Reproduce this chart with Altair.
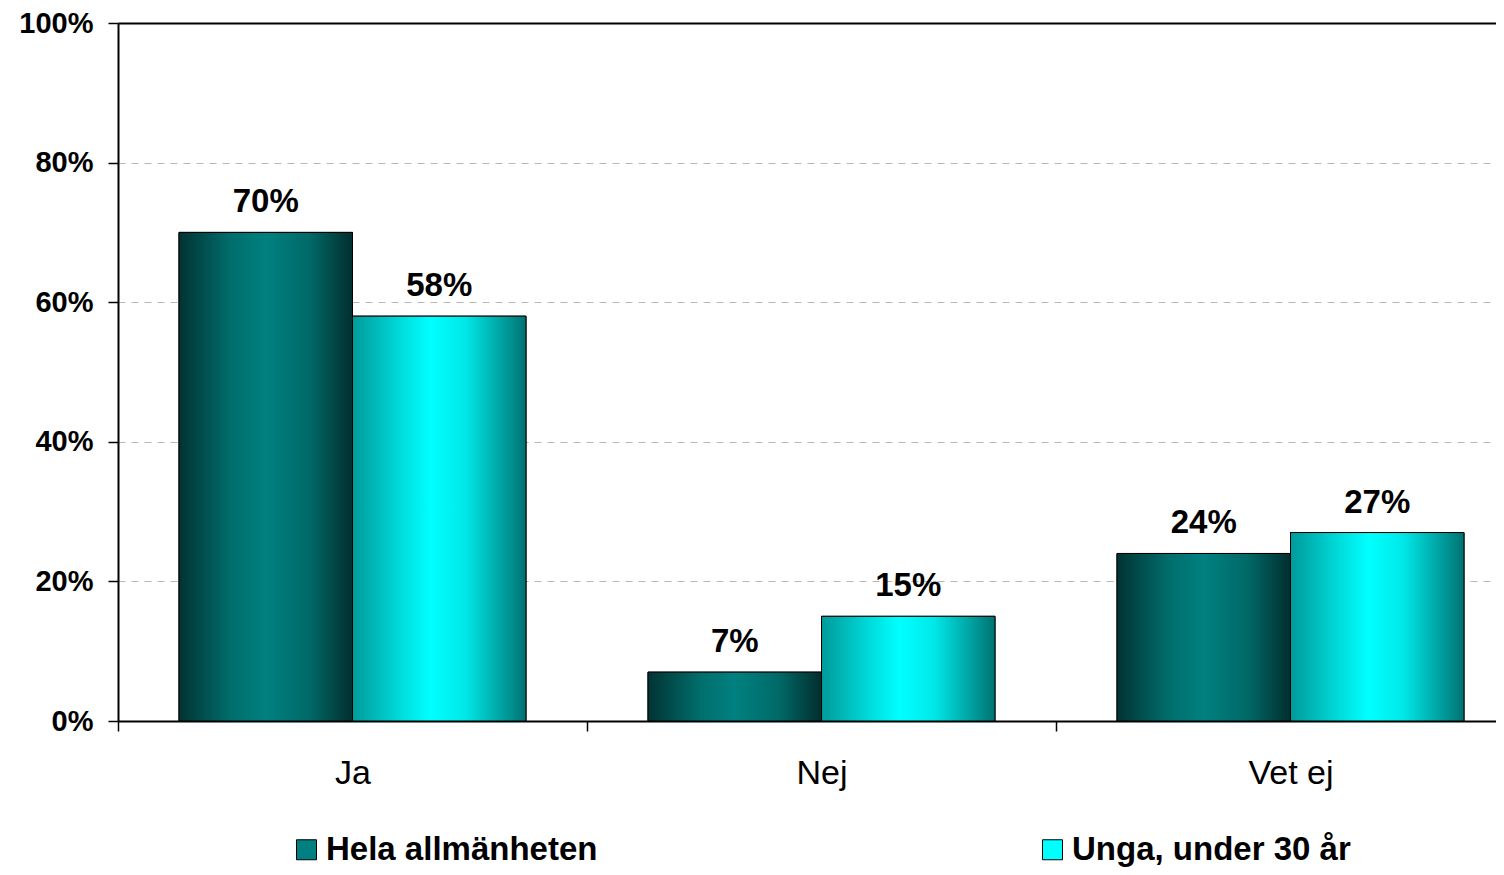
import altair as alt
import pandas as pd

categories = ["Ja", "Nej", "Vet ej"]
series_names = ["Hela allmänheten", "Unga, under 30 år"]
hela = [70, 7, 24]
unga = [58, 15, 27]
y_ticks = [0, 20, 40, 60, 80, 100]

rows = []
for s, vals in zip(series_names, [hela, unga]):
    for c, v in zip(categories, vals):
        rows.append({"category": c, "series": s, "value": v / 100, "label": f"{v}%"})
df = pd.DataFrame(rows)

FONT = "Liberation Sans"

grad_dark = alt.Gradient(
    gradient="linear", x1=0, x2=1, y1=0, y2=0,
    stops=[
        alt.GradientStop(color="#023333", offset=0),
        alt.GradientStop(color="#006e6c", offset=0.3),
        alt.GradientStop(color="#008080", offset=0.5),
        alt.GradientStop(color="#006a68", offset=0.75),
        alt.GradientStop(color="#022e2e", offset=1),
    ],
)
grad_light = alt.Gradient(
    gradient="linear", x1=0, x2=1, y1=0, y2=0,
    stops=[
        alt.GradientStop(color="#009a9a", offset=0),
        alt.GradientStop(color="#00e0e0", offset=0.3),
        alt.GradientStop(color="#00ffff", offset=0.45),
        alt.GradientStop(color="#00e8e8", offset=0.65),
        alt.GradientStop(color="#007272", offset=1),
    ],
)

x_enc = alt.X(
    "category:N",
    sort=categories,
    scale=alt.Scale(paddingInner=0, paddingOuter=0),
    axis=alt.Axis(
        title=None, labelAngle=0, tickBand="extent", tickSize=10,
        tickColor="black", tickWidth=1.5, domainColor="black", domainWidth=2,
        labelFont=FONT, labelFontSize=34, labelColor="black",
        labelPadding=25, grid=False,
    ),
)
xoff_enc = alt.XOffset(
    "series:N", sort=series_names,
    scale=alt.Scale(paddingInner=0, paddingOuter=0.3516),
)
y_enc = alt.Y(
    "value:Q",
    scale=alt.Scale(domain=[0, 1], nice=False),
    axis=alt.Axis(
        title=None, format="%", values=[t / 100 for t in y_ticks],
        tickSize=10, tickColor="black", tickWidth=1.5,
        domainColor="black", domainWidth=2,
        labelFont=FONT, labelFontSize=29, labelFontWeight="bold",
        labelColor="black", labelPadding=15,
        grid=True,
        gridColor={"condition": {"test": "datum.value >= 0.999", "value": "black"}, "value": "#b8b8b8"},
        gridDash={"condition": {"test": "datum.value >= 0.999", "value": []}, "value": [7, 6]},
        gridWidth={"condition": {"test": "datum.value >= 0.999", "value": 2}, "value": 1},
    ),
)

base = alt.Chart(df).mark_bar(stroke="black", strokeWidth=1).encode(
    x=x_enc,
    xOffset=xoff_enc,
    y=y_enc,
    color=alt.Color(
        "series:N",
        sort=series_names,
        scale=alt.Scale(domain=series_names, range=["#008080", "#00FFFF"]),
        legend=alt.Legend(
            title=None, orient="none", legendX=172, legendY=810,
            direction="horizontal", symbolType="square", symbolSize=400,
            symbolStrokeColor="black", symbolStrokeWidth=1, symbolOpacity=1,
            labelFont=FONT, labelFontSize=33, labelFontWeight="bold",
            labelColor="black", labelOffset=3, columnPadding=438,
            labelLimit=0,
        ),
    ),
)

grad_bars = alt.Chart(df).mark_bar(stroke="black", strokeWidth=1).encode(
    x=x_enc,
    xOffset=xoff_enc,
    y=y_enc,
    color=alt.condition(
        alt.datum.series == series_names[0],
        alt.value(grad_dark),
        alt.value(grad_light),
    ),
)

labels = alt.Chart(df).mark_text(
    font=FONT, fontSize=33, fontWeight="bold", baseline="alphabetic",
    dy=-20, color="black",
).encode(
    x=x_enc,
    xOffset=xoff_enc,
    y=y_enc,
    text="label:N",
)

chart = alt.layer(base, grad_bars, labels).properties(
    width=1407,
    height=698,
    autosize=alt.AutoSizeParams(type="none"),
    padding={"left": 110, "top": 15, "right": -29, "bottom": 146},
).configure_view(
    stroke=None
).configure(background="white")

chart.save("out.html", embed_options={"renderer": "svg", "actions": False})
